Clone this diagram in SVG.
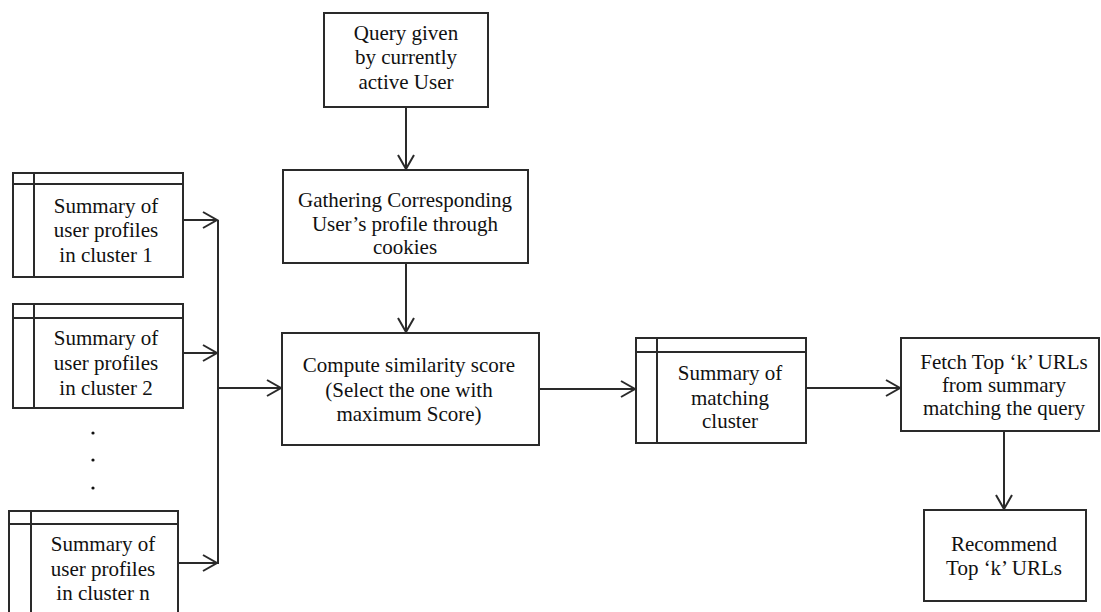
<svg xmlns="http://www.w3.org/2000/svg" width="1101" height="612" viewBox="0 0 1101 612">
  <style>
    .box { fill: #ffffff; stroke: #2a2a2a; stroke-width: 2; }
    .div { fill: none; stroke: #2a2a2a; stroke-width: 2; }
    .lbl { font-family: "Liberation Serif", "Times New Roman", serif; font-size: 21px; fill: #111111; text-anchor: middle; }
    .conn { fill: none; stroke: #2a2a2a; stroke-width: 2; }
  </style>
  <defs>
    <marker id="arrow" markerUnits="userSpaceOnUse" markerWidth="20" markerHeight="20" viewBox="-16 -10 20 20" refX="0" refY="0" orient="auto">
      <path d="M-14,-8 L0,0 L-14,8" fill="none" stroke="#2a2a2a" stroke-width="2"/>
    </marker>
  </defs>
  <rect width="1101" height="612" fill="#ffffff"/>

  <!-- cluster summary stores -->
  <g id="cluster1">
    <rect class="box" x="13" y="173" width="170" height="104"/>
    <path class="div" d="M13,184 H183 M34,173 V277"/>
    <text class="lbl" x="106" y="213">Summary of</text>
    <text class="lbl" x="106" y="237">user profiles</text>
    <text class="lbl" x="106" y="262">in cluster 1</text>
  </g>
  <g id="cluster2">
    <rect class="box" x="13" y="304" width="170" height="104"/>
    <path class="div" d="M13,318 H183 M34,304 V408"/>
    <text class="lbl" x="106" y="345">Summary of</text>
    <text class="lbl" x="106" y="370">user profiles</text>
    <text class="lbl" x="106" y="395">in cluster 2</text>
  </g>
  <g id="ellipsis">
    <circle cx="93" cy="433" r="1.6" fill="#111111"/>
    <circle cx="93" cy="460" r="1.6" fill="#111111"/>
    <circle cx="93" cy="488" r="1.6" fill="#111111"/>
  </g>
  <g id="clusterN">
    <rect class="box" x="9" y="511" width="169" height="110"/>
    <path class="div" d="M9,524 H178 M31,511 V621"/>
    <text class="lbl" x="103" y="551">Summary of</text>
    <text class="lbl" x="103" y="576">user profiles</text>
    <text class="lbl" x="103" y="600">in cluster n</text>
  </g>

  <!-- process steps -->
  <g id="query">
    <rect class="box" x="324" y="13" width="164" height="94"/>
    <text class="lbl" x="406" y="40">Query given</text>
    <text class="lbl" x="406" y="64">by currently</text>
    <text class="lbl" x="406" y="89">active User</text>
  </g>
  <g id="gather">
    <rect class="box" x="283" y="170" width="245" height="93"/>
    <text class="lbl" x="405" y="207">Gathering Corresponding</text>
    <text class="lbl" x="405" y="231">User’s profile through</text>
    <text class="lbl" x="405" y="254">cookies</text>
  </g>
  <g id="compute">
    <rect class="box" x="282" y="333" width="257" height="112"/>
    <text class="lbl" x="409" y="372">Compute similarity score</text>
    <text class="lbl" x="409" y="397">(Select the one with</text>
    <text class="lbl" x="409" y="421">maximum Score)</text>
  </g>
  <g id="matching">
    <rect class="box" x="636" y="338" width="170" height="105"/>
    <path class="div" d="M636,352 H806 M657,338 V443"/>
    <text class="lbl" x="730" y="380">Summary of</text>
    <text class="lbl" x="730" y="405">matching</text>
    <text class="lbl" x="730" y="428">cluster</text>
  </g>
  <g id="fetch">
    <rect class="box" x="901" y="338" width="198" height="93"/>
    <text class="lbl" x="1004" y="369">Fetch Top ‘k’ URLs</text>
    <text class="lbl" x="1004" y="392">from summary</text>
    <text class="lbl" x="1004" y="415">matching the query</text>
  </g>
  <g id="recommend">
    <rect class="box" x="924" y="510" width="162" height="91"/>
    <text class="lbl" x="1004" y="551">Recommend</text>
    <text class="lbl" x="1004" y="575">Top ‘k’ URLs</text>
  </g>

  <!-- connectors -->
  <g id="connectors">
    <line class="conn" x1="183" y1="220" x2="217" y2="220" marker-end="url(#arrow)"/>
    <line class="conn" x1="183" y1="353" x2="217" y2="353" marker-end="url(#arrow)"/>
    <line class="conn" x1="178" y1="563" x2="217" y2="563" marker-end="url(#arrow)"/>
    <line class="conn" x1="218" y1="220" x2="218" y2="564"/>
    <line class="conn" x1="218" y1="388" x2="281" y2="388" marker-end="url(#arrow)"/>
    <line class="conn" x1="406" y1="107" x2="406" y2="169" marker-end="url(#arrow)"/>
    <line class="conn" x1="406" y1="263" x2="406" y2="332" marker-end="url(#arrow)"/>
    <line class="conn" x1="539" y1="389" x2="635" y2="389" marker-end="url(#arrow)"/>
    <line class="conn" x1="806" y1="388" x2="900" y2="388" marker-end="url(#arrow)"/>
    <line class="conn" x1="1004" y1="431" x2="1004" y2="509" marker-end="url(#arrow)"/>
  </g>
</svg>
